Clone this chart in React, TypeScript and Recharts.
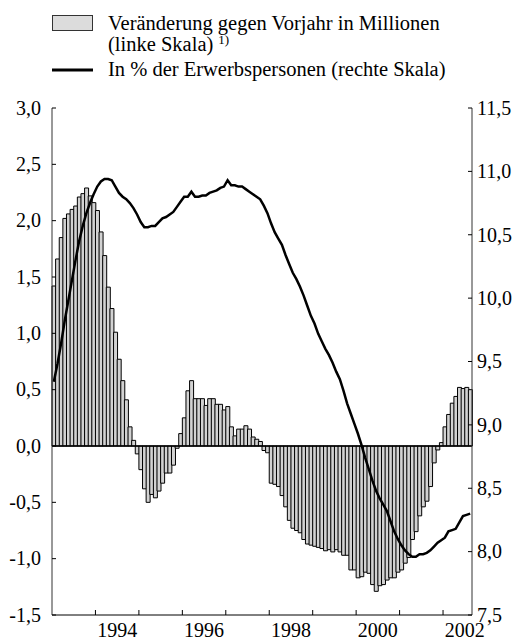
import { ComposedChart, Bar, Line, XAxis, YAxis, ReferenceLine } from "recharts";

const START_YEAR = 1993;
const FONT = "Liberation Serif, DejaVu Serif, serif";

// Veränderung gegen Vorjahr in Millionen, monatlich ab Jan. 1993
const veraenderung = [
  1.42, 1.66, 1.85, 2.02, 2.06, 2.1, 2.13, 2.21, 2.24, 2.29, 2.22, 2.16, // 1993
  2.09, 1.9, 1.69, 1.41, 1.22, 1.01, 0.77, 0.58, 0.41, 0.17, 0.05, -0.07, // 1994
  -0.21, -0.38, -0.5, -0.43, -0.46, -0.4, -0.33, -0.24, -0.24, -0.17, -0.02, 0.11, // 1995
  0.25, 0.49, 0.58, 0.42, 0.42, 0.42, 0.36, 0.42, 0.42, 0.37, 0.37, 0.32, // 1996
  0.35, 0.17, 0.09, 0.15, 0.15, 0.18, 0.15, 0.08, 0.06, 0.04, -0.04, -0.06, // 1997
  -0.33, -0.34, -0.36, -0.44, -0.54, -0.66, -0.73, -0.75, -0.77, -0.83, -0.87, -0.88, // 1998
  -0.89, -0.9, -0.91, -0.93, -0.92, -0.94, -0.92, -0.94, -0.97, -0.97, -1.1, -1.1, // 1999
  -1.17, -1.16, -1.12, -1.13, -1.23, -1.29, -1.24, -1.23, -1.19, -1.17, -1.17, -1.12, // 2000
  -1.1, -1.04, -0.99, -0.83, -0.76, -0.62, -0.54, -0.49, -0.36, -0.15, -0.035, 0.03, // 2001
  0.17, 0.28, 0.38, 0.44, 0.52, 0.51, 0.52, 0.5, // 2002
];

// In % der Erwerbspersonen
const quote = [
  9.34, 9.48, 9.64, 9.82, 9.98, 10.14, 10.3, 10.45, 10.57, 10.67, 10.75, 10.82,
  10.88, 10.92, 10.94, 10.94, 10.93, 10.88, 10.83, 10.8, 10.78, 10.75, 10.71, 10.66,
  10.6, 10.56, 10.56, 10.57, 10.57, 10.6, 10.63, 10.64, 10.66, 10.68, 10.72, 10.76,
  10.8, 10.8, 10.84, 10.8, 10.8, 10.81, 10.81, 10.83, 10.84, 10.85, 10.87, 10.88,
  10.93, 10.89, 10.89, 10.88, 10.88, 10.86, 10.84, 10.82, 10.8, 10.78, 10.73, 10.67,
  10.59, 10.52, 10.47, 10.42, 10.34, 10.27, 10.2, 10.15, 10.09, 10.02, 9.94, 9.86,
  9.8, 9.72, 9.66, 9.6, 9.55, 9.49, 9.42, 9.36, 9.27, 9.17, 9.09, 9.01,
  8.93, 8.84, 8.74, 8.65, 8.56, 8.48, 8.42, 8.37, 8.32, 8.24, 8.16, 8.1,
  8.05, 8.01, 7.98, 7.96, 7.96, 7.98, 7.98, 7.99, 8.01, 8.04, 8.07, 8.09,
  8.11, 8.16, 8.17, 8.18, 8.23, 8.28, 8.29, 8.3,
];

const leftTicks = [-1.5, -1, -0.5, 0, 0.5, 1, 1.5, 2, 2.5, 3];
const rightTicks = [7.5, 8, 8.5, 9, 9.5, 10, 10.5, 11, 11.5];
const yearStarts = [1994, 1995, 1996, 1997, 1998, 1999, 2000, 2001, 2002];
const yearLabels = [1994, 1996, 1998, 2000, 2002];

// months since Jan 1993; bars sit in the middle of their month
const data = veraenderung.map((v, i) => ({ t: i + 0.5, veraenderung: v, quote: quote[i] }));
const xTicks = [
  ...yearStarts.map((y) => (y - START_YEAR) * 12),
  ...yearLabels.map((y) => (y - START_YEAR) * 12 + 6),
].sort((a, b) => a - b);

const fmt = (v: number) => v.toFixed(1).replace(".", ",");
const txt = { fontFamily: FONT, fontSize: 20, fill: "#000" };
const legTxt = { ...txt, fontSize: 20.5 };

function XTick(props: any) {
  const { x, y, payload } = props;
  const v = payload.value;
  if (v % 12 === 0) {
    return <line x1={x} x2={x} y1={y} y2={y - 5} stroke="#000" strokeWidth={1} />;
  }
  return (
    <text x={x} y={y + 22} textAnchor="middle" style={txt}>
      {START_YEAR + Math.floor(v / 12)}
    </text>
  );
}

function LeftTick(props: any) {
  const { x, y, payload } = props;
  return (
    <g>
      <line x1={x} x2={x + 4} y1={y} y2={y} stroke="#000" />
      <text x={x - 11} y={y} dy="0.34em" textAnchor="end" style={txt}>
        {fmt(payload.value)}
      </text>
    </g>
  );
}

function RightTick(props: any) {
  const { x, y, payload } = props;
  return (
    <g>
      <line x1={x - 4} x2={x} y1={y} y2={y} stroke="#000" />
      <text x={x + 5} y={y} dy="0.34em" textAnchor="start" style={txt}>
        {fmt(payload.value)}
      </text>
    </g>
  );
}

function Legende() {
  return (
    <svg width={525} height={100} style={{ position: "absolute", left: 0, top: 0 }}>
      <rect x={52.5} y={15.5} width={40} height={15} fill="#dcdcdc" stroke="#333" />
      <text x={108} y={30} style={legTxt}>
        Veränderung gegen Vorjahr in Millionen
      </text>
      <text x={108} y={51} style={legTxt}>
        (linke Skala)
        <tspan dx={5} dy={-7} style={{ fontSize: 13 }}>
          1)
        </tspan>
      </text>
      <line x1={52} x2={93} y1={70} y2={70} stroke="#000" strokeWidth={3} />
      <text x={108} y={76} style={legTxt}>
        In % der Erwerbspersonen (rechte Skala)
      </text>
    </svg>
  );
}

export default function App() {
  return (
    <div style={{ position: "absolute", left: 0, top: 0, width: 525, height: 641, background: "#fff" }}>
      <ComposedChart
        width={525}
        height={641}
        data={data}
        margin={{ top: 108, right: 0, bottom: 0, left: 0 }}
        barCategoryGap={0}
        barGap={0}
      >
        <XAxis
          dataKey="t"
          type="number"
          domain={[0, 116]}
          ticks={xTicks}
          interval={0}
          tickLine={false}
          tickSize={0}
          tickMargin={0}
          height={26}
          axisLine={{ stroke: "#000" }}
          tick={XTick}
        />
        <YAxis
          yAxisId="left"
          orientation="left"
          width={52}
          domain={[-1.5, 3]}
          ticks={leftTicks}
          interval={0}
          allowDataOverflow
          tickLine={false}
          tickSize={0}
          tickMargin={0}
          axisLine={{ stroke: "#333" }}
          tick={LeftTick}
        />
        <YAxis
          yAxisId="right"
          orientation="right"
          width={53}
          domain={[7.5, 11.5]}
          ticks={rightTicks}
          interval={0}
          allowDataOverflow
          tickLine={false}
          tickSize={0}
          tickMargin={0}
          axisLine={{ stroke: "#333" }}
          tick={RightTick}
        />
        <Bar
          yAxisId="left"
          dataKey="veraenderung"
          fill="#d2d2d2"
          stroke="#000"
          strokeWidth={1}
          isAnimationActive={false}
        />
        <ReferenceLine yAxisId="left" y={0} stroke="#000" strokeWidth={1.5} />
        <Line
          yAxisId="right"
          dataKey="quote"
          type="linear"
          stroke="#000"
          strokeWidth={2.5}
          dot={false}
          isAnimationActive={false}
        />
      </ComposedChart>
      <Legende />
    </div>
  );
}
